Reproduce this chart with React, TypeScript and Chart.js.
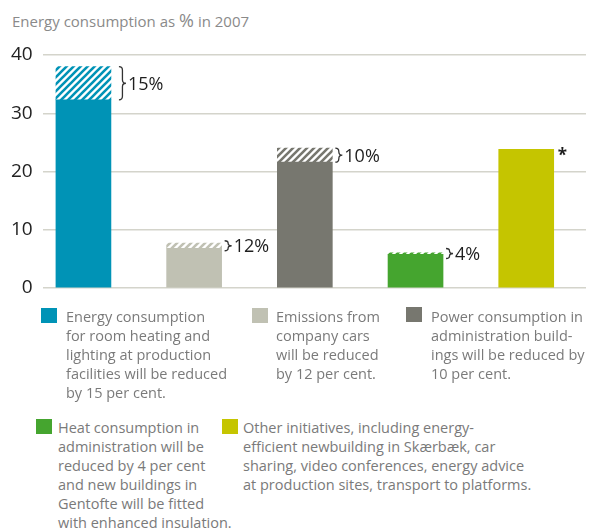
import React, { useEffect, useRef } from "react";
import { Chart, registerables } from "chart.js";
Chart.register(...registerables);

const categories = ["Production facilities", "Company cars", "Administration power", "Administration heat", "Other initiatives"];
const currentValues = [32.3, 6.8, 21.6, 5.8, 23.8];
const reductionValues = [5.7, 0.9, 2.4, 0.25, 0];
const reductionLabels = ["15%", "12%", "10%", "4%", ""];
const noteLabels = ["", "", "", "", "*"];
const barColors = ["#0093b6", "#c0c1b3", "#77776f", "#45a52f", "#c5c500"];
const yTicks = [0, 10, 20, 30, 40];
const titleParts = ["Energy consumption as ", "%", " in 2007"];
const legendTexts = [
  "Energy consumption\nfor room heating and\nlighting at production\nfacilities will be reduced\nby 15 per cent.",
  "Emissions from\ncompany cars\nwill be reduced\nby 12 per cent.",
  "Power consumption in\nadministration build-\nings will be reduced by\n10 per cent.",
  "Heat consumption in\nadministration will be\nreduced by 4 per cent\nand new buildings in\nGentofte will be fitted\nwith enhanced insulation.",
  "Other initiatives, including energy-\nefficient newbuilding in Skærbæk, car\nsharing, video conferences, energy advice\nat production sites, transport to platforms.",
];

const legendPos = [
  { sx: 41, sy: 308, tx: 66, ty: 307 },
  { sx: 252, sy: 308, tx: 276, ty: 307 },
  { sx: 406, sy: 307, tx: 431, ty: 307 },
  { sx: 36, sy: 419, tx: 58, ty: 418 },
  { sx: 222, sy: 419, tx: 243, ty: 418 },
];

const FONT = "'Open Sans', 'Noto Sans', sans-serif";

function stripes(color: string) {
  const c = document.createElement("canvas");
  const s = 7;
  c.width = s;
  c.height = s;
  const g = c.getContext("2d")!;
  g.fillStyle = "#ffffff";
  g.fillRect(0, 0, s, s);
  g.strokeStyle = color;
  g.lineWidth = 2.6;
  g.beginPath();
  for (const o of [-s, 0, s]) {
    g.moveTo(o - 1, s + 1);
    g.lineTo(o + s + 1, -1);
  }
  g.stroke();
  return g.createPattern(c, "repeat")!;
}

const bracePlugin = {
  id: "braces",
  afterDatasetsDraw(chart: any) {
    const ctx = chart.ctx;
    const meta1 = chart.getDatasetMeta(1);
    const meta0 = chart.getDatasetMeta(0);
    ctx.save();
    reductionLabels.forEach((lab, i) => {
      if (!lab) return;
      const bar = meta1.data[i];
      const p = bar.getProps(["x", "y", "base", "width"], true);
      const right = p.x + p.width / 2;
      let y0 = Math.min(p.y, p.base);
      let y1 = Math.max(p.y, p.base);
      const mid0 = (y0 + y1) / 2;
      if (y1 - y0 < 10) {
        y0 = mid0 - 5;
        y1 = mid0 + 5;
      }
      const h = y1 - y0;
      const x = right + (h > 20 ? 8 : 3);
      const w = 7;
      const r = Math.min(3.5, h / 4);
      const mid = (y0 + y1) / 2;
      ctx.strokeStyle = "#333333";
      ctx.lineWidth = 1.3;
      ctx.beginPath();
      ctx.moveTo(x, y0);
      ctx.quadraticCurveTo(x + w / 2, y0, x + w / 2, y0 + r);
      ctx.lineTo(x + w / 2, mid - r);
      ctx.quadraticCurveTo(x + w / 2, mid, x + w, mid);
      ctx.quadraticCurveTo(x + w / 2, mid, x + w / 2, mid + r);
      ctx.lineTo(x + w / 2, y1 - r);
      ctx.quadraticCurveTo(x + w / 2, y1, x, y1);
      ctx.stroke();
      ctx.fillStyle = "#1e1e1e";
      ctx.font = `18px ${FONT}`;
      ctx.textAlign = "left";
      ctx.textBaseline = "middle";
      ctx.fillText(lab, x + w + 2, mid + 1.5);
    });
    noteLabels.forEach((lab, i) => {
      if (!lab) return;
      const bar = meta0.data[i];
      const p = bar.getProps(["x", "y", "width"], true);
      ctx.fillStyle = "#1e1e1e";
      ctx.font = `bold 17px ${FONT}`;
      ctx.textAlign = "left";
      ctx.textBaseline = "top";
      ctx.fillText(lab, p.x + p.width / 2 + 4, p.y - 2);
    });
    ctx.restore();
  },
};

export default function App() {
  const ref = useRef<HTMLCanvasElement>(null);
  useEffect(() => {
    const chart = new Chart(ref.current!, {
      type: "bar",
      data: {
        labels: categories,
        datasets: [
          {
            label: "Current",
            data: currentValues.map((v, i) => ({ x: i, y: v })),
            backgroundColor: barColors,
            barThickness: 55,
            stack: "s",
          },
          {
            label: "Reduction",
            data: reductionValues.map((v, i) => ({ x: i, y: v })),
            backgroundColor: barColors.map(stripes),
            barThickness: 55,
            stack: "s",
          },
        ],
      },
      options: {
        animation: false,
        responsive: false,
        maintainAspectRatio: false,
        layout: { padding: { top: 55, bottom: 22, left: 0, right: 8 } },
        plugins: { legend: { display: false }, tooltip: { enabled: false }, title: { display: false } },
        scales: {
          x: {
            type: "linear",
            min: -0.368,
            max: 4.54,
            offset: false,
            display: false,
            stacked: true,
            grid: { offset: false },
          },
          y: {
            stacked: true,
            min: 0,
            max: 40,
            afterBuildTicks: (axis: any) => {
              axis.ticks = yTicks.map((v) => ({ value: v }));
            },
            afterFit: (axis: any) => {
              axis.width = 42.7;
            },
            ticks: { padding: 10, color: "#222222", font: { size: 19, family: FONT } },
            grid: { color: "#d4d4cb", lineWidth: 1.5, drawTicks: false },
            border: { display: false },
          },
        },
      } as any,
      plugins: [bracePlugin],
    });
    return () => chart.destroy();
  }, []);

  return (
    <div style={{ position: "absolute", left: 0, top: 0, width: 594, height: 532, background: "#fff", fontFamily: FONT }}>
      <div style={{ position: "absolute", left: 12, top: 9, fontSize: 15, lineHeight: "22px", color: "#8a8a8a", whiteSpace: "nowrap" }}>
        {titleParts[0]}
        <span style={{ fontSize: 18 }}>{titleParts[1]}</span>
        {titleParts[2]}
      </div>
      <canvas ref={ref} width={594} height={310} style={{ position: "absolute", left: 0, top: 0, width: 594, height: 310 }} />
      {legendTexts.map((t, i) => (
        <React.Fragment key={i}>
          <div
            style={{
              position: "absolute",
              left: legendPos[i].sx,
              top: legendPos[i].sy,
              width: 16,
              height: 15,
              background: barColors[i],
            }}
          />
          <div
            style={{
              position: "absolute",
              left: legendPos[i].tx,
              top: legendPos[i].ty,
              fontSize: 14.5,
              lineHeight: "19px",
              color: "#7a7a7a",
              whiteSpace: "pre",
            }}
          >
            {t}
          </div>
        </React.Fragment>
      ))}
    </div>
  );
}
